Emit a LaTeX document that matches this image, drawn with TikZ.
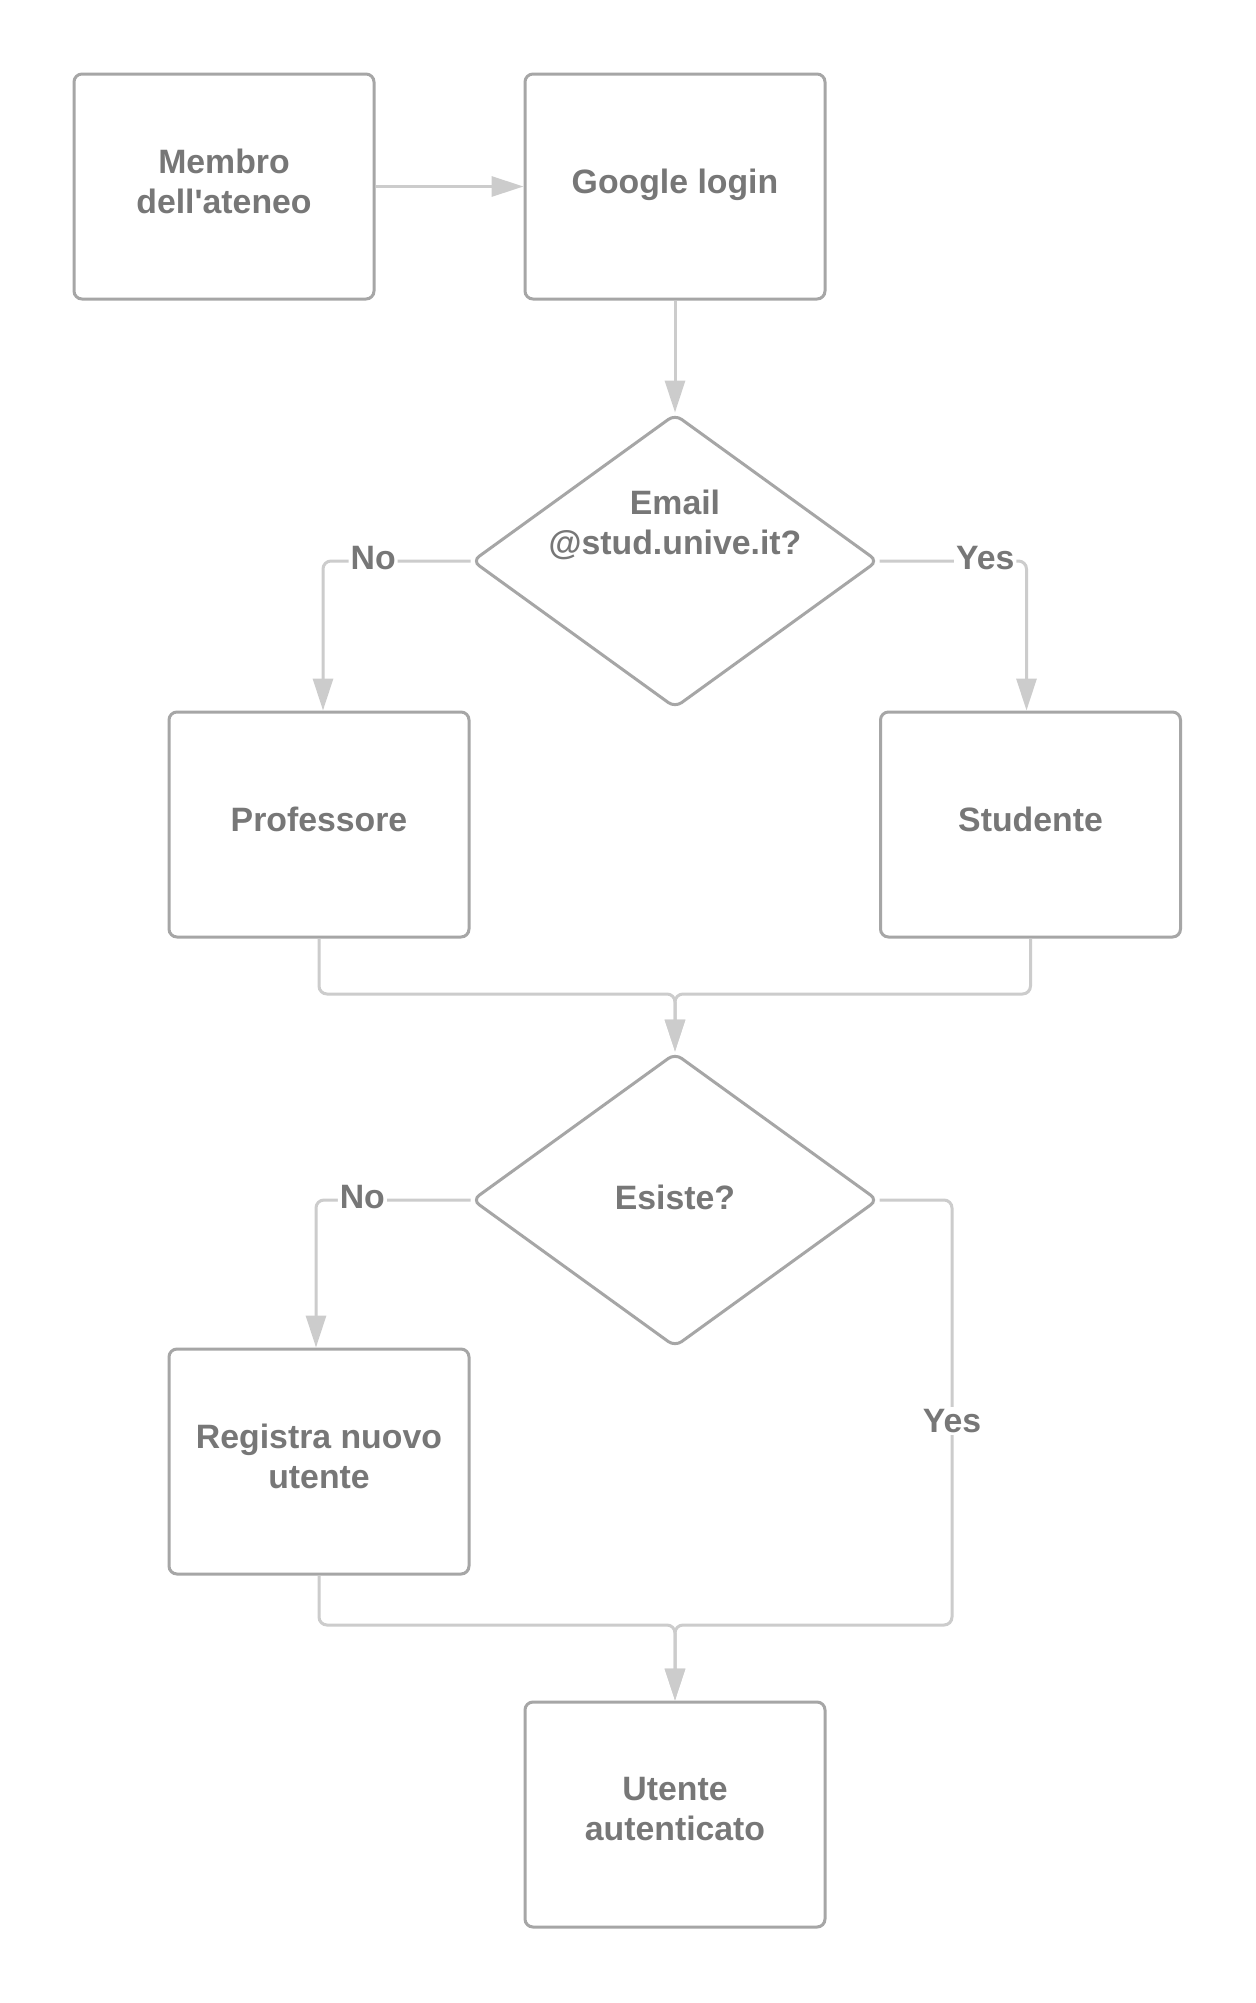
\documentclass[tikz,border=0pt]{standalone}
\usepackage{fontspec}
\setmainfont{Liberation Sans}
\usetikzlibrary{shapes.geometric,arrows.meta}
\definecolor{boxc}{HTML}{A6A6A6}
\definecolor{linec}{HTML}{CCCCCC}
\definecolor{txtc}{HTML}{777777}
\begin{document}
\begin{tikzpicture}[x=0.5pt,y=-0.5pt,
 tfont/.style={text=txtc,font=\fontsize{16.9}{20}\selectfont\bfseries},
 box/.style={draw=boxc,line width=1.5pt,rounded corners=4pt,minimum width=150pt,minimum height=112.5pt,inner sep=0pt},
 dia/.style={diamond,draw=boxc,line width=1.5pt,rounded corners=4pt,minimum width=203pt,minimum height=147pt,inner sep=0pt},
 txt/.style={align=center,inner sep=0pt,tfont},
 btxt/.style={label={[txt,yshift=2.5pt]center:{#1}}},
 conn/.style={draw=linec,line width=1.5pt,rounded corners=4pt,-{Triangle[length=16pt,width=10pt]}},
 lbl/.style={fill=white,inner sep=1pt,tfont}
]
\fill[white] (0,0) rectangle (1256,2003);
\useasboundingbox (0,0) rectangle (1256,2003);

\node[box,btxt={Membro\\dell\textquotesingle ateneo}] (membro) at (224,186.5) {};
\node[box,label={[txt,yshift=0.6pt]center:Google login}] (google) at (675,186.5) {};
\node[dia] (d1) at (675,561) {};
\node[txt] (d1t) at (675,524.5) {Email\\@stud.unive.it?};
\node[box,btxt={Professore}] (prof) at (319,824.5) {};
\node[box,btxt={Studente}] (stud) at (1030.5,824.5) {};
\node[dia,label={[txt,yshift=1.25pt]center:Esiste?}] (d2) at (675,1200) {};
\node[box,btxt={Registra nuovo\\utente}] (reg) at (319,1461.5) {};
\node[box,btxt={Utente\\autenticato}] (ut) at (675,1814.5) {};

\coordinate (m1) at (675,994);
\coordinate (yes1) at (952,1625);
\coordinate (m2) at (675,1625);

\draw[conn] (membro.east) -- (google.west);
\draw[conn] (google.south) -- (d1.north);
\draw[conn] (d1.west) -| node[lbl,pos=0.33,yshift=1.25pt]{No} ([xshift=2pt]prof.north);
\draw[conn] (d1.east) -| node[lbl,pos=0.36,yshift=1.25pt]{Yes} ([xshift=-2pt]stud.north);
\draw[conn] (prof.south) |- (m1) -- (d2.north);
\draw[conn] (stud.south) |- (m1) -- (d2.north);
\draw[conn] (d2.west) -| node[lbl,pos=0.35,yshift=1.5pt]{No} ([xshift=-1.5pt]reg.north);
\draw[conn] (d2.east) -| node[lbl,pos=0.76]{Yes} (yes1) -- (m2) -- (ut.north);
\draw[conn] (reg.south) |- (m2) -- (ut.north);
\end{tikzpicture}
\end{document}
